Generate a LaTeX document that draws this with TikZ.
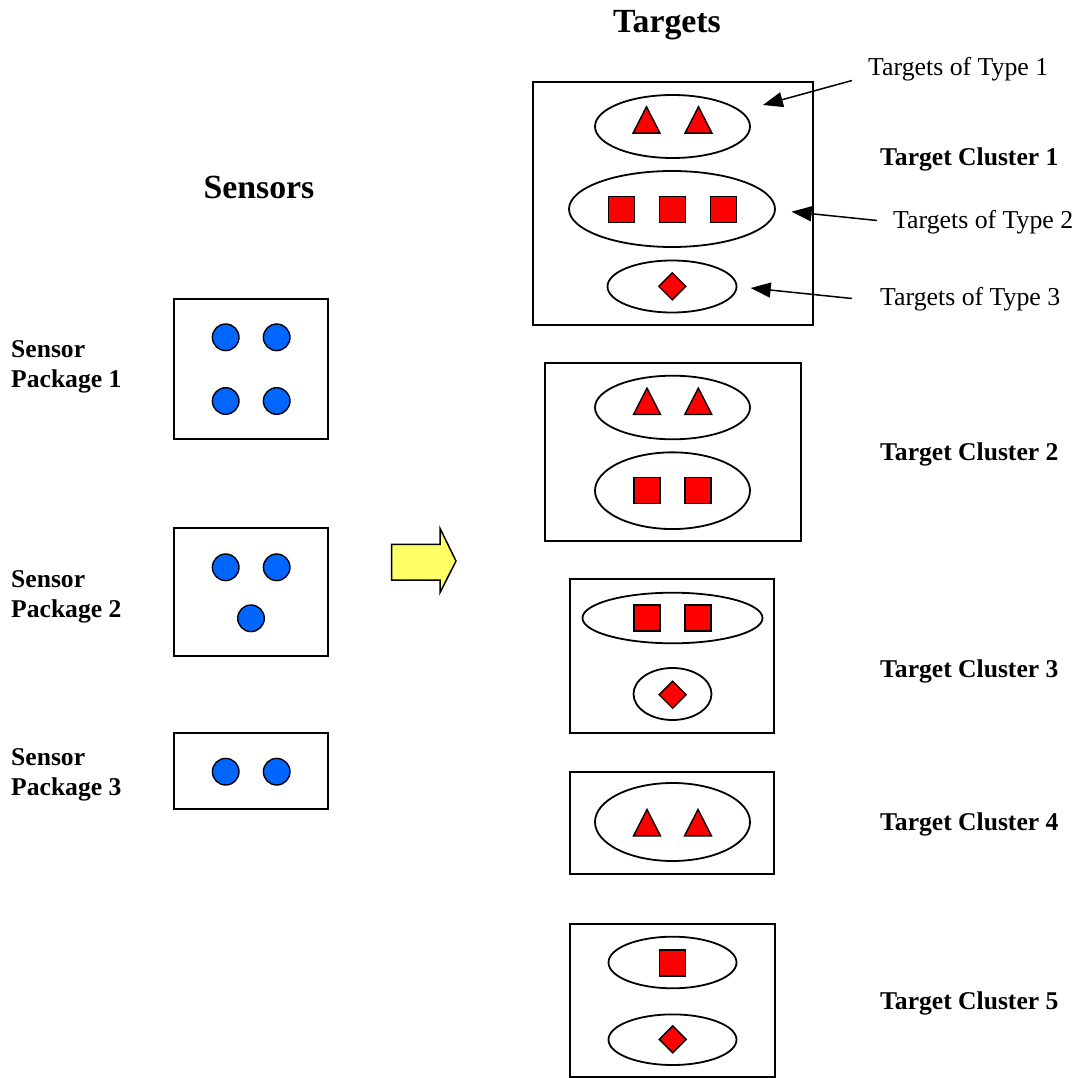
\documentclass[tikz,border=0pt]{standalone}
\usepackage{fontspec}
\setmainfont{Liberation Serif}
\usetikzlibrary{shapes.geometric,arrows.meta,calc}

\definecolor{sensorblue}{RGB}{0,102,255}
\definecolor{targetred}{RGB}{255,0,0}
\definecolor{pushyellow}{RGB}{255,255,102}

\tikzset{
  frame/.style={draw, line width=2pt, rectangle, inner sep=0pt},
  group/.style={draw, line width=1.8pt, ellipse, inner sep=0pt},
  mark fill/.style={draw, line width=1.4pt, fill=targetred, line join=miter},
  label/.style={inner sep=0pt, font=\fontsize{25.8}{30}\selectfont},
  boldlabel/.style={label, font=\fontsize{25.6}{30}\selectfont\bfseries},
  heading/.style={inner sep=0pt, font=\fontsize{33.8}{40}\selectfont\bfseries},
  pointer/.style={line width=1.5pt, -{Triangle[length=20pt,width=15pt]}},
  sensor/.pic={\draw[line width=1.4pt, fill=sensorblue] (0,0) circle[radius=13.3pt];},
  tri/.pic={\draw[mark fill] (-13.5,13.2) -- (0,-13.2) -- (13.5,13.2) -- cycle;},
  sq/.pic={\draw[mark fill] (-13,-13) rectangle (13,13);},
  dia/.pic={\draw[mark fill] (0,-13.5) -- (13.5,0) -- (0,13.5) -- (-13.5,0) -- cycle;},
}

\begin{document}
\begin{tikzpicture}[x=1pt, y=-1pt]
\useasboundingbox (0,0) rectangle (1080,1078);

% headings
\node[heading, anchor=base] (hsens) at (259,199) {Sensors};
\node[heading, anchor=base] (htarg) at (667,33) {Targets};

% sensor packages
\node[frame, minimum width=153.5pt, minimum height=140.3pt] (sp1) at (250.75,369.15) {};
\node[frame, minimum width=153.7pt, minimum height=127.7pt] (sp2) at (250.85,592.15) {};
\node[frame, minimum width=153.7pt, minimum height=76.6pt] (sp3) at (250.85,771) {};

\foreach \p in {(225.7,337.3),(276.7,337.3),(225.7,401),(276.7,401),
                (225.7,567.3),(276.7,567.3),(251,618.3),
                (225.7,771.7),(276.7,771.7)}
  \pic at \p {sensor};

\node[boldlabel, anchor=base west] (sl1a) at (11,357) {Sensor};
\node[boldlabel, anchor=base west] (sl1b) at (11,387) {Package 1};
\node[boldlabel, anchor=base west] (sl2a) at (11,587) {Sensor};
\node[boldlabel, anchor=base west] (sl2b) at (11,617) {Package 2};
\node[boldlabel, anchor=base west] (sl3a) at (11,765) {Sensor};
\node[boldlabel, anchor=base west] (sl3b) at (11,795) {Package 3};

% assignment arrow
\draw[line width=1.5pt, fill=pushyellow, line join=miter]
  (391.7,544.3) -- (440,544.3) -- (440,528.3) -- (456,561) -- (440,592.7)
  -- (440,580) -- (391.7,580) -- cycle;

% target clusters
\node[frame, minimum width=280.3pt, minimum height=243pt] (tc1) at (672.85,203.5) {};
\node[frame, minimum width=256pt, minimum height=177.7pt] (tc2) at (672.7,452.15) {};
\node[frame, minimum width=204pt, minimum height=154pt] (tc3) at (672,656.3) {};
\node[frame, minimum width=204pt, minimum height=102.6pt] (tc4) at (672,823) {};
\node[frame, minimum width=205pt, minimum height=152.7pt] (tc5) at (672.5,1000.35) {};

% target groups
\node[group, minimum width=155pt, minimum height=63pt] (e11) at (672.5,126.5) {};
\node[group, minimum width=206pt, minimum height=76pt] (e12) at (672,209) {};
\node[group, minimum width=129pt, minimum height=52pt] (e13) at (672,286.5) {};
\node[group, minimum width=155pt, minimum height=63.6pt] (e21) at (672.5,407.5) {};
\node[group, minimum width=155pt, minimum height=76.7pt] (e22) at (672.5,490.7) {};
\node[group, minimum width=180pt, minimum height=50.6pt] (e31) at (672.5,618) {};
\node[group, minimum width=78pt, minimum height=52pt] (e32) at (672.5,694) {};
\node[group, minimum width=155pt, minimum height=78pt] (e41) at (672.5,822) {};
\node[group, minimum width=128pt, minimum height=51.6pt] (e51) at (672.5,962.5) {};
\node[group, minimum width=128pt, minimum height=50.6pt] (e52) at (672.5,1039.7) {};

% targets
\foreach \p in {(646.5,120),(698.5,120),(647,401.3),(698.3,401.3),(647,822.7),(698,822.7)}
  \pic at \p {tri};
\foreach \p in {(621.7,209.7),(672.7,209.7),(723.7,209.7),(647,490.7),(698,490.7),
                (647,618),(698,618),(672.7,963)}
  \pic at \p {sq};
\foreach \p in {(672.3,286.3),(672.7,694.7),(672.7,1039.3)}
  \pic at \p {dia};

% cluster labels
\node[boldlabel, anchor=base west] (cl1) at (880,166) {Target Cluster 1};
\node[boldlabel, anchor=base west] (cl2) at (880,460) {Target Cluster 2};
\node[boldlabel, anchor=base west] (cl3) at (880,677) {Target Cluster 3};
\node[boldlabel, anchor=base west] (cl4) at (880,830) {Target Cluster 4};
\node[boldlabel, anchor=base west] (cl5) at (880,1009) {Target Cluster 5};

% type callouts
\node[label, anchor=base west] (ty1) at (868,76) {Targets of Type 1};
\node[label, anchor=base west] (ty2) at (893,229) {Targets of Type 2};
\node[label, anchor=base west] (ty3) at (880,306) {Targets of Type 3};

\draw[pointer] ($(ty1.west)+(-16,10.8)$) -- ($(e11.east)+(12,-21.5)$);
\draw[pointer] ($(ty2.west)+(-16,-2.2)$) -- ($(e12.east)+(15.7,2.7)$);
\draw[pointer] ($(ty3.west)+(-28,-1.2)$) -- ($(e13.east)+(13.3,1.5)$);
\end{tikzpicture}
\end{document}
